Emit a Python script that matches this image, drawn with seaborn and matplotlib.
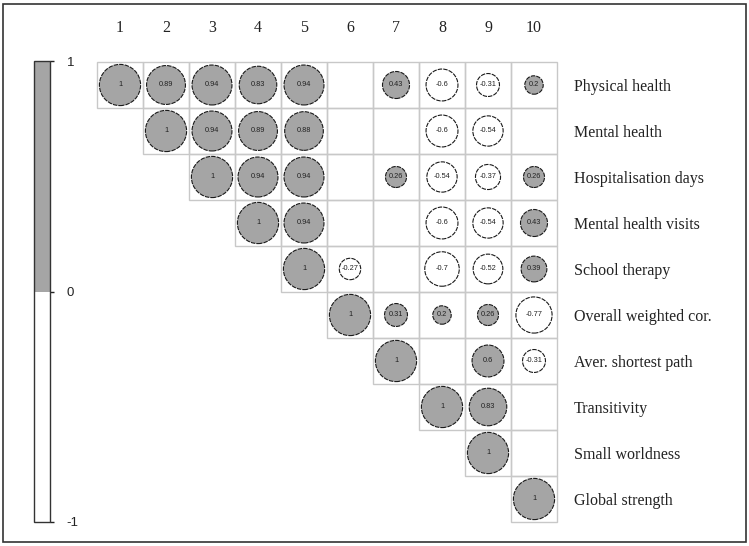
import numpy as np
import pandas as pd
import matplotlib
matplotlib.use("Agg")
import matplotlib.pyplot as plt
import seaborn as sns
from matplotlib.colors import ListedColormap, BoundaryNorm
from matplotlib.cm import ScalarMappable
from matplotlib.patches import Rectangle

# Variables (rows) and column numbers
variables = ["Physical health", "Mental health", "Hospitalisation days",
             "Mental health visits", "School therapy", "Overall weighted cor.",
             "Aver. shortest path", "Transitivity", "Small worldness",
             "Global strength"]
col_labels = [str(i) for i in range(1, 11)]

nan = np.nan
# upper triangle, each row starts at the diagonal; nan = empty cell
corr_rows = [
    [1, 0.89, 0.94, 0.83, 0.94, nan, 0.43, -0.6, -0.31, 0.2],
    [1, 0.94, 0.89, 0.88, nan, nan, -0.6, -0.54, nan],
    [1, 0.94, 0.94, nan, 0.26, -0.54, -0.37, 0.26],
    [1, 0.94, nan, nan, -0.6, -0.54, 0.43],
    [1, -0.27, nan, -0.7, -0.52, 0.39],
    [1, 0.31, 0.2, 0.26, -0.77],
    [1, nan, 0.6, -0.31],
    [1, 0.83, nan],
    [1, nan],
    [1],
]

GREY = "#a5a5a5"
n = len(variables)

# long table for the circles
recs = []
for i, row in enumerate(corr_rows):
    for k, v in enumerate(row):
        if np.isnan(v):
            continue
        j = i + k
        recs.append({"x": j + 0.5, "y": i + 0.5, "r": v, "mag": abs(v),
                     "sign": "pos" if v > 0 else "neg"})
df = pd.DataFrame(recs)

sns.set_style("white")
plt.rcParams["axes.unicode_minus"] = False
fig = plt.figure(figsize=(7.49, 5.46), dpi=100)
ax = fig.add_axes([97 / 749, 24 / 546, 460 / 749, 460 / 546])

# white cells, no grid from heatmap itself
mask = np.tril(np.ones((n, n)), -1).astype(bool)
sns.heatmap(pd.DataFrame(np.zeros((n, n))), mask=mask,
            cmap=ListedColormap(["white"]), cbar=False,
            linewidths=0, square=True, ax=ax)

# cell borders for the upper triangle only
for i in range(n):
    for j in range(i, n):
        ax.add_patch(Rectangle((j, i), 1, 1, fill=False, edgecolor="#c8c8c8",
                               linewidth=1, zorder=2, clip_on=False))

sns.scatterplot(data=df, x="x", y="y", hue="sign",
                palette={"pos": GREY, "neg": "white"},
                size="mag", sizes=(0, 880), size_norm=(0, 1),
                edgecolor="#1a1a1a", linewidth=0.8,
                linestyle=(0, (4, 1)), legend=False, ax=ax, zorder=3)

for _, p in df.iterrows():
    ax.text(p["x"], p["y"], f"{p['r']:g}", ha="center", va="center",
            fontsize=5.3, family="Liberation Sans", color="#222222", zorder=4)

ax.set_xlim(0, n)
ax.set_ylim(n, 0)
ax.set_xlabel("")
ax.set_ylabel("")

ax.xaxis.tick_top()
ax.set_xticks(np.arange(n) + 0.5)
ax.set_xticklabels(col_labels, family="Liberation Serif", fontsize=11.5,
                   color="#222222")
ax.yaxis.tick_right()
ax.set_yticks(np.arange(n) + 0.5)
ax.set_yticklabels(variables, rotation=0, ha="left", family="Liberation Serif",
                   fontsize=11.5, color="#222222")
ax.tick_params(axis="x", length=0, pad=19)
ax.tick_params(axis="y", length=0, pad=12)
for s in ax.spines.values():
    s.set_visible(False)

# colour bar on the left
cax = fig.add_axes([34 / 749, 24 / 546, 16 / 749, 461 / 546])
cmap = ListedColormap(["white", GREY])
norm = BoundaryNorm([-1, 0, 1], cmap.N)
cb = fig.colorbar(ScalarMappable(norm=norm, cmap=cmap), cax=cax, ticks=[-1, 0, 1])
cb.outline.set_edgecolor("#333333")
cb.outline.set_linewidth(1)
cax.tick_params(length=3, width=1, pad=9, labelsize=9.5, colors="#222222")
for t in cax.get_yticklabels():
    t.set_family("Liberation Sans")

# outer frame
fig.add_artist(Rectangle((3 / 749, 4 / 546), 743 / 749, 538 / 546,
                         transform=fig.transFigure, fill=False,
                         edgecolor="#333333", linewidth=1.2))

fig.savefig("out.png", dpi=100)
